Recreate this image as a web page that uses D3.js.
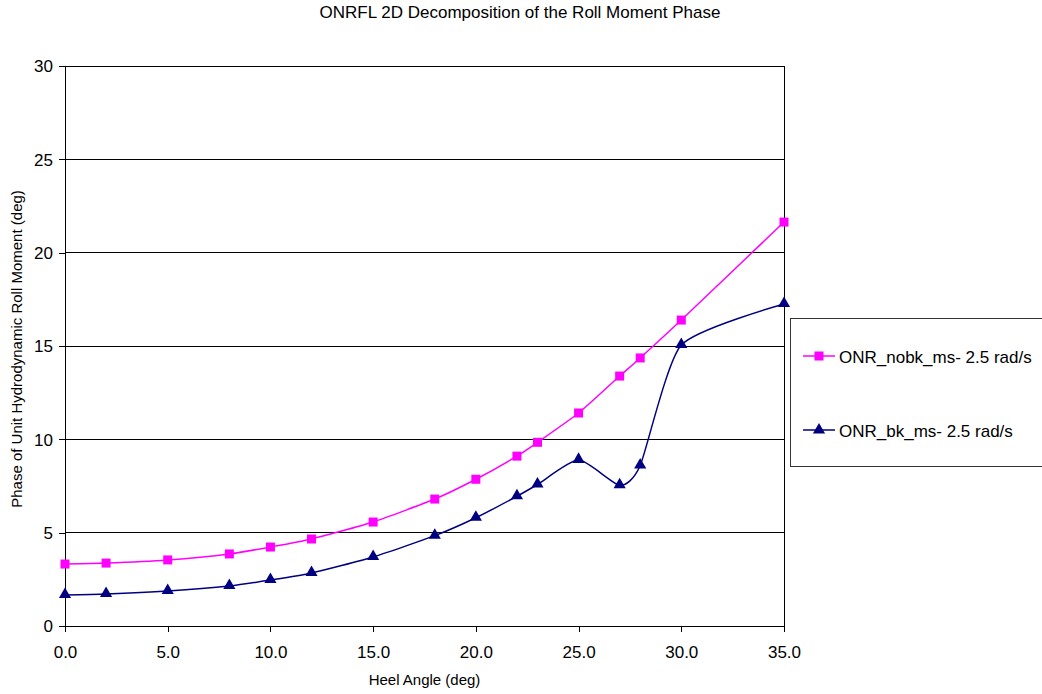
<!DOCTYPE html>
<html>
<head>
<meta charset="utf-8">
<script src="https://cdn.jsdelivr.net/npm/d3@7"></script>
<style>
  html, body { margin: 0; padding: 0; background: #fff; }
  svg { display: block; font-family: "Liberation Sans", Arial, sans-serif; }
</style>
</head>
<body>
<svg id="chart" width="1042" height="694"></svg>
<script>
// Heel angles (deg)
const heelAngles = [0, 2, 5, 8, 10, 12, 15, 18, 20, 22, 23, 25, 27, 28, 30, 35];
// Roll moment phase (deg), no bilge keel
const nobkPhase = [3.32, 3.37, 3.54, 3.86, 4.23, 4.66, 5.57, 6.80, 7.86, 9.10, 9.84, 11.41, 13.39, 14.36, 16.39, 21.64];
// Roll moment phase (deg), with bilge keel
const bkPhase = [1.66, 1.71, 1.87, 2.14, 2.46, 2.84, 3.70, 4.84, 5.80, 6.95, 7.58, 8.90, 7.54, 8.60, 15.05, 17.25];
const seriesNames = ["ONR_nobk_ms- 2.5 rad/s", "ONR_bk_ms- 2.5 rad/s"];
const xTicks = [0, 5, 10, 15, 20, 25, 30, 35];
const yTicks = [0, 5, 10, 15, 20, 25, 30];

const svg = d3.select("#chart");
const plotLeft = 65, plotRight = 784, plotTop = 66, plotBottom = 626;

const x = d3.scaleLinear().domain([0, 35]).range([plotLeft, plotRight]);
const y = d3.scaleLinear().domain([0, 30]).range([plotBottom, plotTop]);

// Title
svg.append("text")
  .attr("x", 520).attr("y", 18)
  .attr("text-anchor", "middle")
  .attr("font-size", 17)
  .attr("fill", "#000")
  .text("ONRFL 2D Decomposition of the Roll Moment Phase");

// Horizontal gridlines
svg.append("g")
  .selectAll("line")
  .data(yTicks.filter(d => d > 0))
  .join("line")
  .attr("x1", plotLeft).attr("x2", plotRight)
  .attr("y1", d => y(d)).attr("y2", d => y(d))
  .attr("stroke", "#000").attr("stroke-width", 1)
  .attr("shape-rendering", "crispEdges");

// Plot frame (right side)
svg.append("line")
  .attr("x1", plotRight).attr("x2", plotRight).attr("y1", plotTop).attr("y2", plotBottom)
  .attr("stroke", "#000").attr("shape-rendering", "crispEdges");

// Axes
const xAxis = d3.axisBottom(x).tickValues(xTicks).tickFormat(d3.format(".1f")).tickSize(6).tickSizeOuter(0);
const yAxis = d3.axisLeft(y).tickValues(yTicks).tickSize(6).tickSizeOuter(0);

const gx = svg.append("g").attr("transform", `translate(0,${plotBottom})`).call(xAxis);
const gy = svg.append("g").attr("transform", `translate(${plotLeft},0)`).call(yAxis);
[gx, gy].forEach(g => {
  g.selectAll("path, line").attr("stroke", "#000").attr("shape-rendering", "crispEdges");
  g.selectAll("text").attr("font-size", 17).attr("fill", "#000")
    .attr("font-family", "'Liberation Sans', Arial, sans-serif");
});
gx.selectAll("text").attr("y", 0).attr("dy", 0)
  .attr("transform", "translate(0,32)");
gy.selectAll("text").attr("x", -12).attr("dy", "0.35em");

// Axis titles
svg.append("text")
  .attr("x", (plotLeft + plotRight) / 2).attr("y", 685)
  .attr("text-anchor", "middle").attr("font-size", 15)
  .text("Heel Angle (deg)");
svg.append("text")
  .attr("transform", `translate(22,${(plotTop + plotBottom) / 2 + 3}) rotate(-90)`)
  .attr("text-anchor", "middle").attr("font-size", 15)
  .text("Phase of Unit Hydrodynamic Roll Moment (deg)");

const line = d3.line()
  .x(d => x(d[0])).y(d => y(d[1]))
  .curve(d3.curveCardinal.tension(0.4));

const nobk = heelAngles.map((h, i) => [h, nobkPhase[i]]);
const bk = heelAngles.map((h, i) => [h, bkPhase[i]]);

const pink = "#ff00ff", navy = "#000080";

svg.append("path").datum(nobk).attr("d", line)
  .attr("fill", "none").attr("stroke", pink).attr("stroke-width", 1.5);
svg.append("path").datum(bk).attr("d", line)
  .attr("fill", "none").attr("stroke", navy).attr("stroke-width", 1.5);

const sq = d3.symbol().type(d3.symbolSquare).size(81);
const tri = d3.symbol().type(d3.symbolTriangle).size(64);

svg.append("g").selectAll("path").data(nobk).join("path")
  .attr("d", sq)
  .attr("transform", d => `translate(${x(d[0])},${y(d[1])})`)
  .attr("fill", pink);
svg.append("g").selectAll("path").data(bk).join("path")
  .attr("d", tri)
  .attr("transform", d => `translate(${x(d[0])},${y(d[1]) - 0.5})`)
  .attr("fill", navy);

// Legend
const lg = svg.append("g");
lg.append("rect")
  .attr("x", 790.5).attr("y", 318.5).attr("width", 260).attr("height", 148)
  .attr("fill", "#fff").attr("stroke", "#333").attr("stroke-width", 1);
const legendItems = [
  { name: seriesNames[0], color: pink, sym: sq, ly: 356 },
  { name: seriesNames[1], color: navy, sym: tri, ly: 430 }
];
legendItems.forEach(it => {
  lg.append("line").attr("x1", 803).attr("x2", 835).attr("y1", it.ly).attr("y2", it.ly)
    .attr("stroke", it.color).attr("stroke-width", 1.5);
  lg.append("path").attr("d", it.sym).attr("transform", `translate(819,${it.ly})`).attr("fill", it.color);
  lg.append("text").attr("x", 839).attr("y", it.ly + 7).attr("font-size", 17).text(it.name);
});
</script>
</body>
</html>
